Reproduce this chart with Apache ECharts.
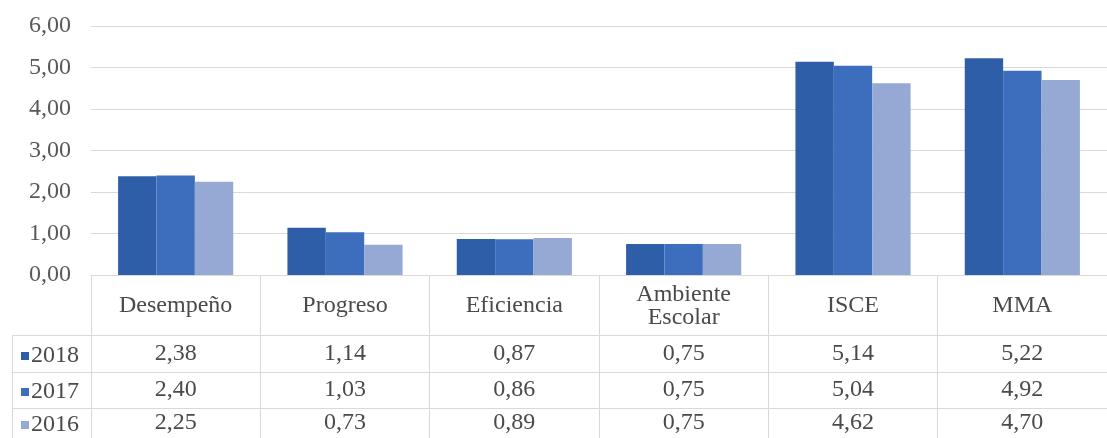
<!DOCTYPE html>
<html>
<head>
<meta charset="utf-8">
<script src="https://cdn.jsdelivr.net/npm/echarts@6/dist/echarts.min.js"></script>
<style>
  html, body { margin: 0; padding: 0; background: #fff; }
  #chart { width: 1107px; height: 438px; }
</style>
</head>
<body>
<div id="chart"></div>
<script>
const categories = ['Desempeño', 'Progreso', 'Eficiencia', 'Ambiente\nEscolar', 'ISCE', 'MMA']
const years = ['2018', '2017', '2016']
const values2018 = [2.38, 1.14, 0.87, 0.75, 5.14, 5.22]
const values2017 = [2.40, 1.03, 0.86, 0.75, 5.04, 4.92]
const values2016 = [2.25, 0.73, 0.89, 0.75, 4.62, 4.70]
const yTicks = [0, 1, 2, 3, 4, 5, 6]

const colors = ['#2e5ea8', '#3c6ebd', '#95a9d4']
const font = "'Liberation Serif', 'Times New Roman', serif"
const gridColor = '#d9d9d9'
const textColor = '#4a4a4a'

const fmt = v => v.toFixed(2).replace('.', ',')
const rows = [values2018, values2017, values2016]
const rowCenters = [354, 390, 423]

// the data table rows are drawn as extra category axes under the grid
const tableAxes = rows.map((vals, i) => ({
  type: 'category',
  gridIndex: 0,
  position: 'bottom',
  offset: rowCenters[i] - 275,
  data: vals.map(fmt),
  axisLine: { show: false },
  axisTick: { show: false },
  splitLine: { show: false },
  axisLabel: {
    margin: 0,
    verticalAlign: 'middle',
    fontFamily: font,
    fontSize: 24,
    color: textColor,
    interval: 0
  }
}))

// one legend per table row, so each sits in its own row header
const legends = years.map((y, i) => ({
  data: [y],
  orient: 'horizontal',
  left: 16,
  top: rowCenters[i] - 15,
  itemWidth: 8,
  itemHeight: 8,
  itemGap: 0,
  icon: 'rect',
  textStyle: { fontFamily: font, fontSize: 24, color: textColor, lineHeight: 24, padding: [0, 0, 0, -3] }
}))

const hLine = y => ({
  type: 'line',
  shape: { x1: 12, y1: y, x2: 1107, y2: y },
  style: { stroke: gridColor, lineWidth: 1 },
  silent: true
})

const chart = echarts.init(document.getElementById('chart'))
chart.setOption({
  animation: false,
  color: colors,
  grid: { left: 91, right: 0, top: 26, bottom: 163 },
  legend: legends,
  xAxis: [{
    type: 'category',
    data: categories,
    axisLine: { lineStyle: { color: gridColor } },
    axisTick: { show: true, length: 163, lineStyle: { color: gridColor } },
    axisLabel: {
      margin: 31,
      verticalAlign: 'middle',
      interval: 0,
      fontFamily: font,
      fontSize: 24,
      lineHeight: 23,
      color: textColor
    }
  }].concat(tableAxes),
  yAxis: {
    type: 'value',
    min: yTicks[0],
    max: yTicks[yTicks.length - 1],
    interval: 1,
    axisLine: { show: false },
    axisTick: { show: false },
    splitLine: { lineStyle: { color: gridColor } },
    axisLabel: {
      margin: 20,
      fontFamily: font,
      fontSize: 24,
      color: '#595959',
      formatter: fmt
    }
  },
  series: years.map((y, i) => ({
    name: y,
    type: 'bar',
    data: rows[i],
    barGap: '0%',
    barCategoryGap: '32%',
    itemStyle: { color: colors[i] }
  })),
  graphic: [
    hLine(335.5), hLine(372.5), hLine(408.5),
    {
      type: 'line',
      shape: { x1: 12.5, y1: 335, x2: 12.5, y2: 438 },
      style: { stroke: gridColor, lineWidth: 1 },
      silent: true
    }
  ]
})
</script>
</body>
</html>
